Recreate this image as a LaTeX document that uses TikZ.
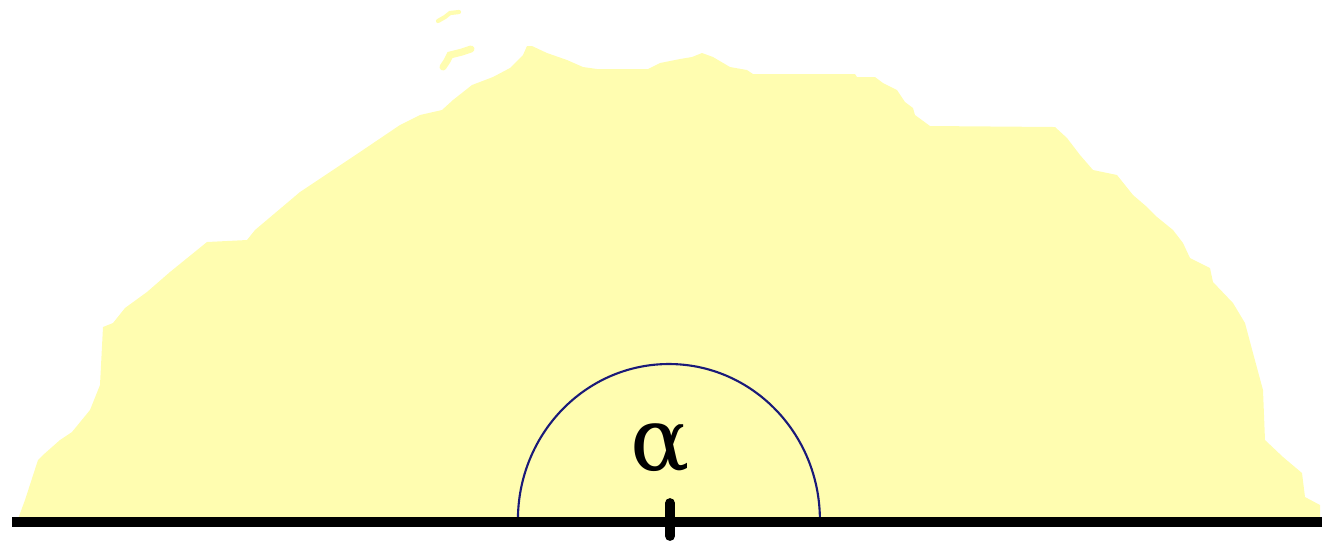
\documentclass[tikz,border=0pt]{standalone}
\usepackage{amsmath}
\usepackage{fontspec}
\usepackage{tikz}
\newfontfamily\greekfont{DejaVu Serif}
\definecolor{paleyellow}{RGB}{255,253,176}
\definecolor{arcblue}{RGB}{26,26,120}
\begin{document}
\begin{tikzpicture}[x=0.01cm, y=-0.01cm]
\useasboundingbox (0,0) rectangle (1326,544);
\fill[paleyellow] (18,519) -- (25,500) -- (38,460) -- (43,455) -- (60,440) -- (72,432) -- (90,410) -- (100,385)
-- (103,327) -- (113,323) -- (125,308) -- (147,292) -- (170,272) -- (207,242) -- (247,240) -- (255,230)
-- (300,192) -- (360,152) -- (400,125) -- (420,115) -- (442,110) -- (453,100) -- (472,85) -- (493,77)
-- (510,68) -- (523,55) -- (527,46) -- (532,46) -- (547,53) -- (567,60) -- (583,67) -- (597,69)
-- (648,69) -- (660,63) -- (680,59) -- (692,57) -- (702,53) -- (713,57) -- (730,67) -- (747,70)
-- (753,74) -- (855,74) -- (857,77) -- (875,77) -- (883,83) -- (897,90) -- (905,102) -- (913,108)
-- (915,115) -- (930,126) -- (1055,127) -- (1067,138) -- (1080,155) -- (1093,170) -- (1117,175)
-- (1133,195) -- (1147,207) -- (1157,217) -- (1173,230) -- (1183,243) -- (1190,258) -- (1210,268)
-- (1213,282) -- (1233,303) -- (1245,323) -- (1253,353) -- (1263,390) -- (1265,440) -- (1283,457)
-- (1302,473) -- (1305,497) -- (1320,505) -- (1320,519) -- cycle;
\draw[paleyellow, line width=1.2pt, line cap=round] (438,21) -- (445,17) -- (450,13) -- (459,12);
\draw[paleyellow, line width=2pt, line cap=round] (443,67) -- (447,61) -- (450,55) -- (462,52) -- (471,49);
\coordinate (L) at (12,522);
\coordinate (R) at (1322,522);
\coordinate (O) at (669,520);
\coordinate (T1) at (670,503);
\coordinate (T2) at (670,536);
\draw[arcblue, line width=0.6pt] ([xshift=-1.51cm]O) arc[start angle=180, end angle=360, x radius=151, y radius=156];
\draw[line width=2.6pt] (L) -- (R);
\draw[line width=2.8pt, line cap=round] (T1) -- (T2);
\node (alpha) at (660,449) {\greekfont\fontsize{25}{28}\selectfont α};
\end{tikzpicture}
\end{document}
